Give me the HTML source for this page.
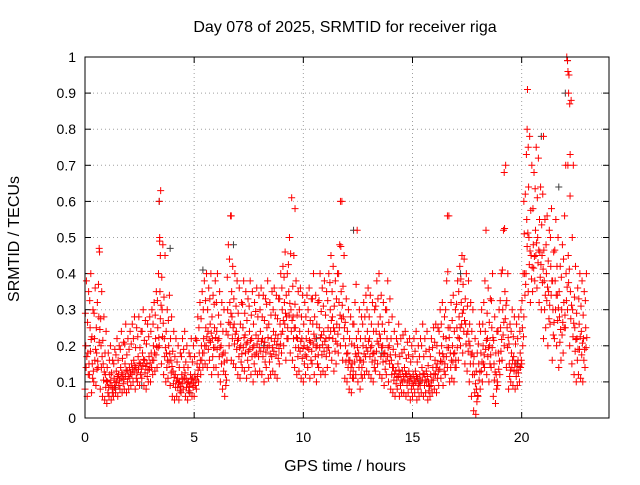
<!DOCTYPE html>
<html><head><meta charset="utf-8"><style>
html,body{margin:0;padding:0;background:#fff}
svg text{font-family:"Liberation Sans",sans-serif;font-size:14px;fill:#000}
svg text.big{font-size:16px}
</style></head><body>
<svg id="chart" width="640" height="480" xmlns="http://www.w3.org/2000/svg">
<rect width="640" height="480" fill="#fff"/>
<text class="big" x="345" y="32" text-anchor="middle">Day 078 of 2025, SRMTID for receiver riga</text>
<text class="big" x="0" y="0" transform="translate(19,239) rotate(-90)" text-anchor="middle">SRMTID / TECUs</text>
<text class="big" x="345" y="471" text-anchor="middle">GPS time / hours</text>
<g id="grid"></g>
<g id="ticks"></g>
<g id="gray"></g>
<g id="red"></g>
<rect x="85" y="57" width="524" height="361" fill="none" stroke="#000" stroke-width="1"/>
</svg>
<script>
const xTicks=[0,5,10,15,20];
const yTicks=[0,0.1,0.2,0.3,0.4,0.5,0.6,0.7,0.8,0.9,1];
const yTickLabels=["0","0.1","0.2","0.3","0.4","0.5","0.6","0.7","0.8","0.9","1"];
const binHours=0.1;
const mid=[20,18,25,15,22,18,28,20,15,12,10,12,9,11,13,12,14,12,15,13,14,15,16,14,17,15,18,16,15,17,18,20,22,25,35,30,22,18,20,16,13,12,11,10,12,14,11,10,12,11,12,15,18,20,22,25,24,26,22,25,24,22,20,18,12,30,32,28,26,24,22,20,25,23,21,24,22,20,23,22,24,22,21,25,20,22,24,23,22,26,30,32,28,35,30,28,25,22,24,22,20,22,24,21,26,22,20,25,23,24,22,25,30,28,24,26,32,35,28,20,18,16,15,20,22,18,16,20,22,24,22,20,18,24,26,22,20,18,22,20,16,14,13,15,12,13,14,12,13,11,12,13,11,12,14,12,13,10,12,14,16,15,18,20,17,22,25,18,20,18,25,28,32,30,26,24,20,18,12,8,15,18,20,24,22,20,25,15,12,18,25,30,35,25,15,18,17,15,16,18,25,40,55,50,45,48,52,50,46,45,38,40,35,42,30,38,34,28,30,32,40,45,35,30,25,22,26,24,22,25];
const lo=[8,6,12,7,10,9,14,8,6,5,4,6,5,6,7,6,8,7,8,7,8,9,10,8,10,9,11,9,8,10,10,12,13,14,20,15,12,10,11,9,6,5,6,5,7,8,6,5,7,6,6,8,10,12,14,15,14,16,12,14,14,12,10,8,6,16,20,16,15,14,12,11,14,13,11,14,12,10,13,12,13,12,10,14,11,12,13,12,11,15,18,20,16,22,18,16,14,12,13,11,10,12,14,11,15,12,10,14,12,13,12,14,18,16,13,15,18,20,16,11,10,8,7,11,12,10,8,11,12,13,12,11,10,13,15,12,11,9,12,10,8,7,6,8,6,7,7,6,7,5,6,7,5,6,7,6,7,5,6,7,8,7,9,11,9,12,14,10,11,10,14,16,20,18,15,13,10,6,2,1,6,8,10,14,12,10,14,6,4,9,12,16,20,14,8,10,9,8,9,10,15,28,40,35,32,35,38,36,32,30,22,25,20,26,16,22,20,14,16,18,25,30,20,15,12,10,12,11,10,14];
const hi=[38,35,40,30,36,32,46,35,28,24,18,20,16,19,22,20,24,21,26,22,24,26,28,25,28,24,30,27,26,28,30,32,35,40,63,48,45,30,34,28,24,22,20,18,22,24,20,18,22,20,22,28,32,35,38,40,36,40,34,38,40,35,32,30,24,48,56,42,40,38,36,32,38,35,33,38,35,32,36,34,36,34,33,38,32,35,36,34,33,40,42,46,40,50,61,45,38,35,36,34,32,34,36,33,40,34,32,40,36,38,35,40,45,42,38,40,48,60,45,33,30,28,26,32,52,30,28,32,34,36,34,32,30,38,40,34,32,30,38,33,28,24,22,26,22,23,24,21,22,20,22,24,20,22,26,22,24,19,22,25,26,25,30,32,28,38,56,32,34,30,38,42,45,44,40,38,32,30,22,18,26,30,32,52,36,33,40,28,24,30,40,52,70,40,26,30,28,26,28,30,40,62,91,78,70,68,75,72,64,62,55,56,52,58,46,55,50,42,48,56,100,95,88,70,42,36,40,38,35,40];
const extraT=[3.4,3.42,3.45,0.65,20.25,20.3,22.1,22.12,22.15,22.2,22.22,9.62,11.7,16.6,19.2,20.1,21.0,6.7];
const extraV=[0.6,0.5,0.45,0.47,0.8,0.75,0.99,0.96,0.9,0.87,0.73,0.58,0.6,0.56,0.68,0.6,0.78,0.56];
const grayT=[3.4,20.9,22.1,22.0,6.8,3.9,5.4,12.3,17.2,21.7,1.4,15.3,8.2,10.6,13.6,19.8,2.6,4.8];
const grayV=[0.6,0.78,0.99,0.9,0.48,0.47,0.41,0.52,0.4,0.64,0.08,0.1,0.2,0.22,0.18,0.15,0.09,0.07];

const X0=85,X1=609,Y0=418,Y1=57;
const xs=t=>X0+t*(X1-X0)/24;
const ys=v=>Y0-v*(Y0-Y1);
const NS="http://www.w3.org/2000/svg";
function mk(tag,at,parent){const e=document.createElementNS(NS,tag);for(const k in at)e.setAttribute(k,at[k]);parent.appendChild(e);return e;}
const grid=document.getElementById('grid'),ticks=document.getElementById('ticks');
yTicks.forEach((v,i)=>{const y=ys(v);
 if(i>0&&i<yTicks.length-1){const g=mk('line',{x1:X0,x2:X1,y1:y,y2:y,stroke:'#a0a0a0','stroke-dasharray':'1,3'},grid);
 
 }
 mk('line',{x1:X0,x2:X0+6,y1:y,y2:y,stroke:'#000'},ticks);
 mk('line',{x1:X1,x2:X1-6,y1:y,y2:y,stroke:'#000'},ticks);
 const t=mk('text',{x:X0-9,y:y+5,'text-anchor':'end'},ticks);t.textContent=yTickLabels[i];
 
 });
xTicks.forEach(h=>{const x=xs(h);
 if(h>0){const g=mk('line',{x1:x,x2:x,y1:Y0,y2:Y1,stroke:'#a0a0a0','stroke-dasharray':'1,3'},grid);
 
 }
 mk('line',{x1:x,x2:x,y1:Y0,y2:Y0-6,stroke:'#000'},ticks);
 mk('line',{x1:x,x2:x,y1:Y1,y2:Y1+6,stroke:'#000'},ticks);
 const t=mk('text',{x:x,y:Y0+24,'text-anchor':'middle'},ticks);t.textContent=String(h);
 
 });
function plus(t,v,col,parent){const x=xs(t),y=ys(v);
 const p=mk('path',{d:`M${x-3.5},${y}h7M${x},${y-3.5}v7`,stroke:col,'stroke-width':1,fill:'none'},parent);
 
 }
const gray=document.getElementById('gray'),red=document.getElementById('red');
grayT.forEach((t,i)=>plus(t,grayV[i],'#404040',gray));
mid.forEach((m,i)=>{const t=i*binHours;
 plus(t,lo[i]/100,'#ff0000',red);
 plus(t+0.033,m/100,'#ff0000',red);
 plus(t+0.066,hi[i]/100,'#ff0000',red);
 plus(t+0.05,(lo[i]+m)/200,'#ff0000',red);
 plus(t+0.017,(hi[i]+m)/200,'#ff0000',red);
 plus(t+0.083,(lo[i]+3*m)/400,'#ff0000',red);});
extraT.forEach((t,i)=>plus(t,extraV[i],'#ff0000',red));
</script>
</body></html>
